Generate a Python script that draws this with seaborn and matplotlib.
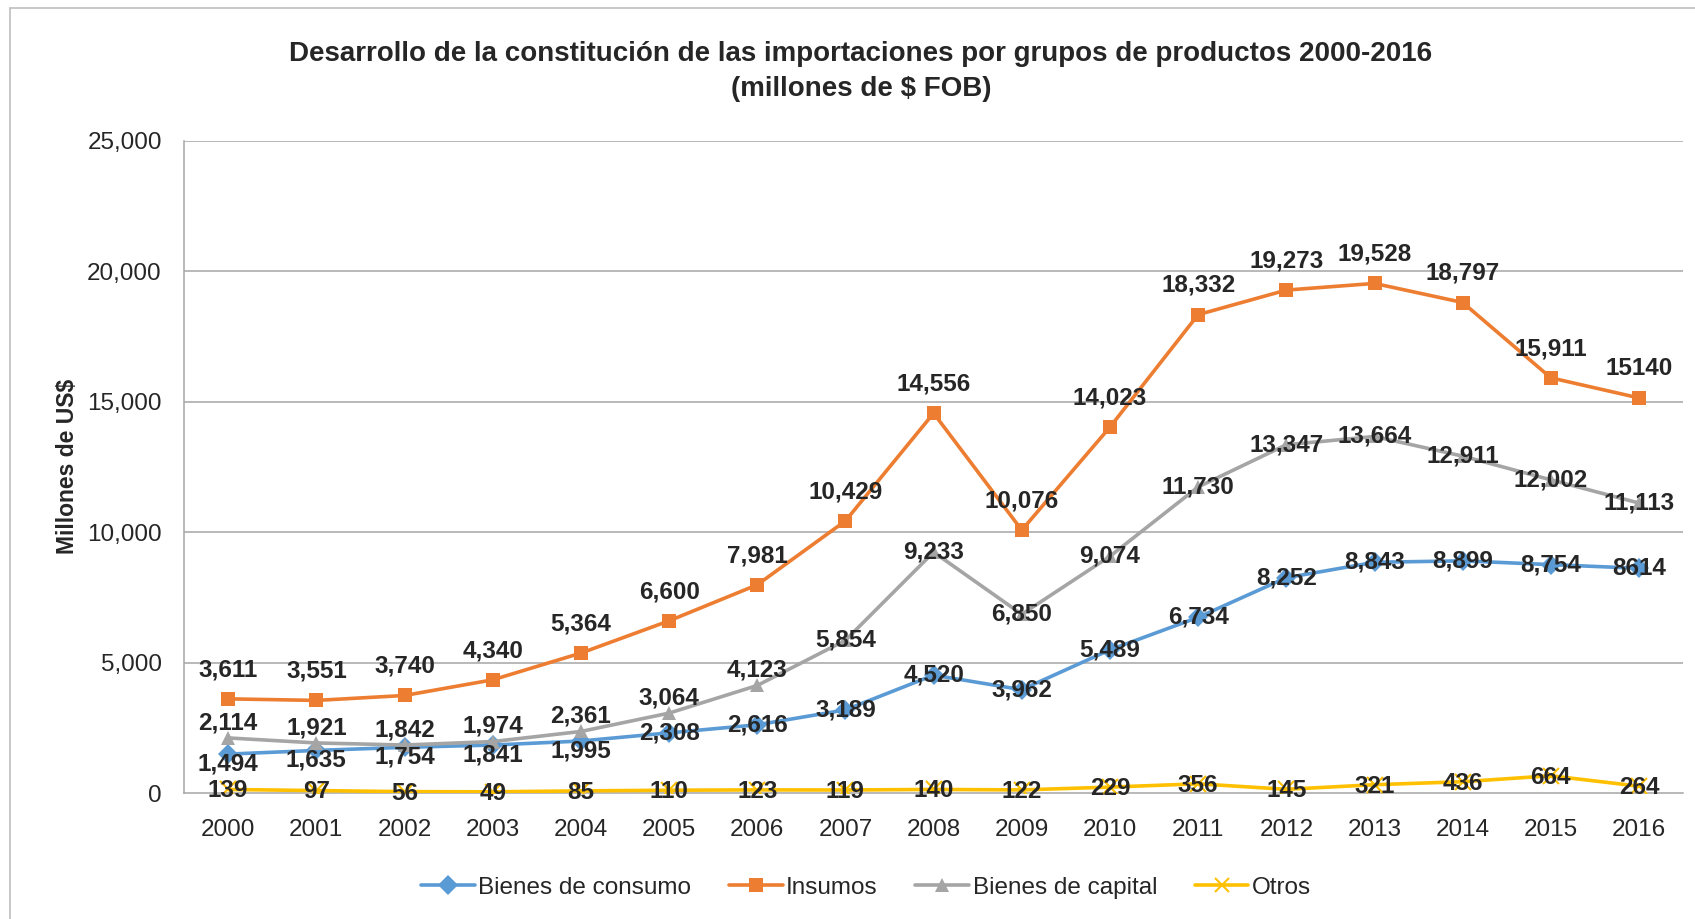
import pandas as pd
import matplotlib
matplotlib.use('Agg')
import matplotlib.pyplot as plt
from matplotlib.lines import Line2D
import seaborn as sns

# Data
years = list(range(2000, 2017))
consumo = [1494, 1635, 1754, 1841, 1995, 2308, 2616, 3189, 4520, 3962, 5489, 6734, 8252, 8843, 8899, 8754, 8614]
insumos = [3611, 3551, 3740, 4340, 5364, 6600, 7981, 10429, 14556, 10076, 14023, 18332, 19273, 19528, 18797, 15911, 15140]
capital = [2114, 1921, 1842, 1974, 2361, 3064, 4123, 5854, 9233, 6850, 9074, 11730, 13347, 13664, 12911, 12002, 11113]
otros = [139, 97, 56, 49, 85, 110, 123, 119, 140, 122, 229, 356, 145, 321, 436, 664, 264]

# labels as printed in the chart (some without thousands separator)
consumo_lbl = ['1,494', '1,635', '1,754', '1,841', '1,995', '2,308', '2,616', '3,189', '4,520', '3,962',
               '5,489', '6,734', '8,252', '8,843', '8,899', '8,754', '8614']
insumos_lbl = ['3,611', '3,551', '3,740', '4,340', '5,364', '6,600', '7,981', '10,429', '14,556', '10,076',
               '14,023', '18,332', '19,273', '19,528', '18,797', '15,911', '15140']
capital_lbl = ['2,114', '1,921', '1,842', '1,974', '2,361', '3,064', '4,123', '5,854', '9,233', '6,850',
               '9,074', '11,730', '13,347', '13,664', '12,911', '12,002', '11,113']
otros_lbl = [str(v) for v in otros]

series_names = ['Bienes de consumo', 'Insumos', 'Bienes de capital', 'Otros']
series_vals = [consumo, insumos, capital, otros]

colors = {'Bienes de consumo': '#5B9BD5', 'Insumos': '#ED7D31',
          'Bienes de capital': '#A5A5A5', 'Otros': '#FFC000'}
markers = {'Bienes de consumo': 'D', 'Insumos': 's', 'Bienes de capital': '^', 'Otros': 'x'}

sns.set_style('white')
plt.rcParams['font.family'] = ['Liberation Sans', 'DejaVu Sans']

fig = plt.figure(figsize=(16.95, 9.19), dpi=100)
ax = fig.add_axes([0.1086, 0.137, 0.8844, 0.710])

for ylev in range(5000, 30000, 5000):
    ax.axhline(ylev, color='#A6A6A6', lw=1.1, zorder=0)

for name, vals in zip(series_names, series_vals):
    d = pd.DataFrame({'Año': years, 'Valor': vals})
    is_x = markers[name] == 'x'
    sns.lineplot(data=d, x='Año', y='Valor', color=colors[name], marker=markers[name],
                 linewidth=2.6, markersize=11 if is_x else 10,
                 markeredgewidth=1.5 if is_x else 0, markeredgecolor=colors[name],
                 ax=ax, zorder=3)

# Data labels
label_sets = [
    (consumo, consumo_lbl, lambda i: -7 if i < 5 else 0),
    (insumos, insumos_lbl, lambda i: 21),
    (capital, capital_lbl, lambda i: 11 if i < 7 else 0),
    (otros, otros_lbl, lambda i: -1),
]
for vals, lbls, off in label_sets:
    for i, (yr, v, t) in enumerate(zip(years, vals, lbls)):
        ax.annotate(t, (yr, v), xytext=(0, off(i)), textcoords='offset points',
                    ha='center', va='center', fontsize=17.5, fontweight='bold', zorder=5)

ax.set_xlim(1999.5, 2016.5)
ax.set_ylim(0, 25000)
ax.set_xticks(years)
ax.set_xticklabels([str(y) for y in years])
ax.set_xticks([y - 0.5 for y in years] + [2016.5], minor=True)
ax.tick_params(axis='x', which='major', length=0, labelsize=17.5, pad=19)
ax.tick_params(axis='x', which='minor', length=7, color='#A6A6A6', width=1)
ax.set_yticks(range(0, 30000, 5000))
ax.set_yticklabels([f'{v:,}' for v in range(0, 30000, 5000)])
ax.tick_params(axis='y', length=6, color='#A6A6A6', labelsize=17.5, pad=10)

for s in ['top', 'right']:
    ax.spines[s].set_visible(False)
for s in ['left', 'bottom']:
    ax.spines[s].set_color('#A6A6A6')
    ax.spines[s].set_linewidth(1.1)

ax.set_xlabel('')
ax.set_ylabel('Millones de US$', fontsize=16.5, fontweight='bold', labelpad=6)

fig.text(0.508, 0.941, 'Desarrollo de la constitución de las importaciones por grupos de productos 2000-2016',
         ha='center', va='center', fontsize=20, fontweight='bold')
fig.text(0.508, 0.903, '(millones de $ FOB)', ha='center', va='center', fontsize=20, fontweight='bold')

handles = [Line2D([], [], color=colors[n], marker=markers[n], lw=2.6, markersize=10,
                  markeredgewidth=1.5 if n == 'Otros' else 0, markeredgecolor=colors[n])
           for n in series_names]
fig.legend(handles, series_names, loc='center', bbox_to_anchor=(0.511, 0.034), ncol=4,
           frameon=False, fontsize=17.5, handlelength=2.2, handletextpad=0.15, columnspacing=1.55)

# chart frame
fig.add_artist(Line2D([0.006, 0.006], [0, 0.991], color='#BFBFBF', lw=1.2, transform=fig.transFigure))
fig.add_artist(Line2D([0.006, 1], [0.991, 0.991], color='#BFBFBF', lw=1.2, transform=fig.transFigure))

fig.savefig('out.png', dpi=100)
